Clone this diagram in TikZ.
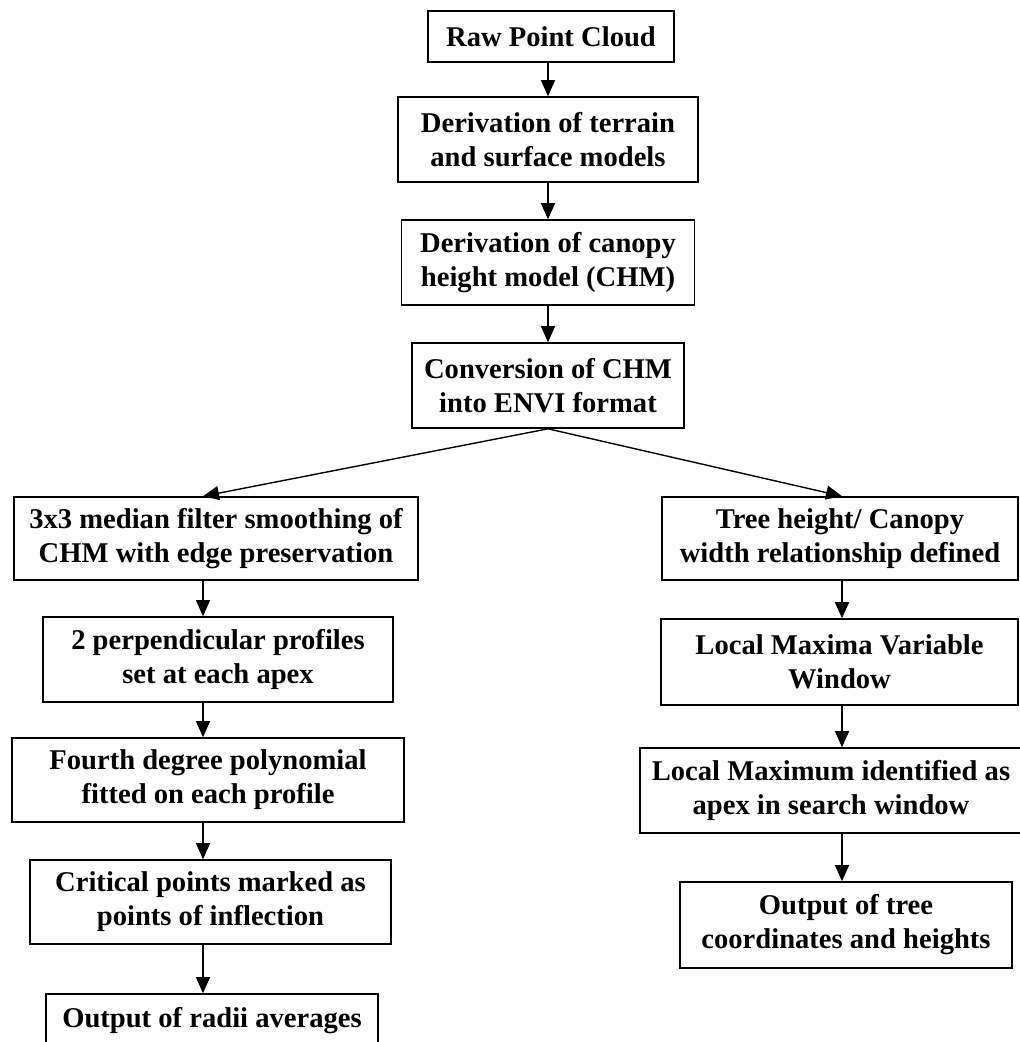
\documentclass[tikz,border=0pt]{standalone}
\usepackage{fontspec}
\setmainfont{Liberation Serif}
\usetikzlibrary{arrows.meta}
\begin{document}
\begin{tikzpicture}[x=1pt,y=-1pt,
  box/.style={draw,line width=1.6pt,align=center,inner sep=0pt,
    font=\fontsize{28.6}{34}\selectfont\bfseries},
  arr/.style={line width=1.4pt,-{Triangle[length=16pt,width=14pt]}}]
\clip (0,0) rectangle (1020,1042);
\useasboundingbox (0,0) rectangle (1020,1042);
\node[box,minimum width=246pt,minimum height=51pt] (raw) at (551,36.5) {Raw Point Cloud};
\node[box,minimum width=300pt,minimum height=85pt] (terrain) at (548,139.5) {Derivation of terrain\\and surface models};
\node[box,minimum width=293pt,minimum height=85pt] (canopy) at (548,262.5) {Derivation of canopy\\height model (CHM)};
\node[box,minimum width=272pt,minimum height=85pt] (envi) at (548,385.5) {Conversion of CHM\\into ENVI format};
\node[box,minimum width=404pt,minimum height=83pt] (median) at (216,538.5) {3x3 median filter smoothing of\\CHM with edge preservation};
\node[box,minimum width=356pt,minimum height=83pt] (treeh) at (840,538.5) {Tree height/ Canopy\\width relationship defined};
\node[box,minimum width=350pt,minimum height=85pt] (perp) at (218,659.5) {2 perpendicular profiles\\set at each apex};
\node[box,minimum width=357pt,minimum height=86pt] (lmvw) at (839.5,662) {Local Maxima Variable\\Window};
\node[box,minimum width=392pt,minimum height=84pt] (fourth) at (208,780) {Fourth degree polynomial\\fitted on each profile};
\node[box,minimum width=382pt,minimum height=85pt] (lmid) at (831,790.5) {Local Maximum identified as\\apex in search window};
\node[box,minimum width=361pt,minimum height=84pt] (crit) at (210.5,902) {Critical points marked as\\points of inflection};
\node[box,minimum width=332pt,minimum height=86pt] (outtree) at (846,925) {Output of tree\\coordinates and heights};
\node[box,minimum width=332pt,minimum height=54pt] (radii) at (212,1021) {Output of radii averages};
\coordinate (lc) at (203,0);
\coordinate (rc) at (842,0);
\coordinate (mc) at (548,0);
\draw[arr] (raw.south -| mc) -- (terrain.north -| mc);
\draw[arr] (terrain) -- (canopy);
\draw[arr] (canopy) -- (envi);
\draw[arr] (envi.south) -- (median.north -| lc);
\draw[arr] (envi.south) -- (treeh.north -| rc);
\draw[arr] (median.south -| lc) -- (perp.north -| lc);
\draw[arr] (perp.south -| lc) -- (fourth.north -| lc);
\draw[arr] (fourth.south -| lc) -- (crit.north -| lc);
\draw[arr] (crit.south -| lc) -- (radii.north -| lc);
\draw[arr] (treeh.south -| rc) -- (lmvw.north -| rc);
\draw[arr] (lmvw.south -| rc) -- (lmid.north -| rc);
\draw[arr] (lmid.south -| rc) -- (outtree.north -| rc);
\end{tikzpicture}
\end{document}
